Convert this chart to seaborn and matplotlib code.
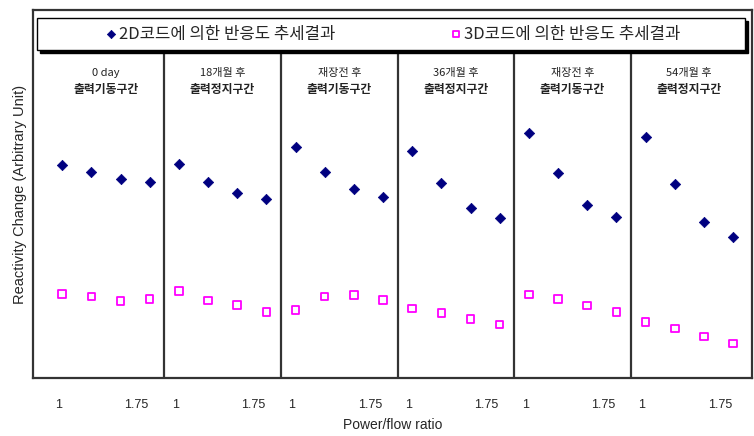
import numpy as np
import pandas as pd
import matplotlib
matplotlib.use("Agg")
import matplotlib.pyplot as plt
from matplotlib.patches import Rectangle
import seaborn as sns

# Reactivity trend per operating segment (4 power/flow points each)
segments_top = ["0 day", "18개월 후", "재장전 후", "36개월 후", "재장전 후", "54개월 후"]
segments_bottom = ["출력기동구간", "출력정지구간", "출력기동구간", "출력정지구간", "출력기동구간", "출력정지구간"]

code_2d = [57.8, 56.1, 54.2, 53.2,
           58.1, 53.3, 50.2, 48.7,
           62.7, 56.1, 51.3, 49.3,
           61.6, 53.0, 46.2, 43.5,
           66.5, 55.8, 47.1, 43.8,
           65.5, 52.6, 42.5, 38.3]
code_3d = [22.8, 22.2, 20.9, 21.5,
           23.7, 21.1, 19.8, 17.9,
           18.5, 22.2, 22.6, 21.2,
           18.9, 17.7, 16.0, 14.5,
           22.7, 21.4, 19.7, 17.9,
           15.2, 13.4, 11.3, 9.4]
tick_labels = ["1", "1.75"]

label_2d = "2D코드에 의한 반응도 추세결과"
label_3d = "3D코드에 의한 반응도 추세결과"

n_pts = 4
idx = np.arange(len(code_2d))
df = pd.DataFrame({"pos": idx, "r2d": code_2d, "r3d": code_3d})

sns.set_style("white")
plt.rcParams["font.family"] = ["Noto Sans CJK KR", "DejaVu Sans"]

fig = plt.figure(figsize=(7.54, 4.36), dpi=100)
W, H = 754, 436
ax = fig.add_axes([33 / W, (H - 378) / H, (752 - 33) / W, 368 / H])

sns.scatterplot(data=df, x="pos", y="r2d", ax=ax, marker="D", s=28,
                color="#000080", edgecolor="#000080", linewidth=0.5,
                label=label_2d)
sns.scatterplot(data=df, x="pos", y="r3d", ax=ax, marker="s", s=30,
                facecolor="none", edgecolor="#FF00FF", linewidth=1.3,
                label=label_3d)

ax.set_xlim(-1.0, 23.65)
ax.set_ylim(0, 100)

# segment dividers
for k in range(1, len(segments_top)):
    ax.axvline(k * n_pts - 0.5, ymin=0, ymax=0.886, color="#333333", lw=1.6)

# segment headers
for k, (t, b) in enumerate(zip(segments_top, segments_bottom)):
    cx = k * n_pts + 1.5
    ax.text(cx, 83.0, t, ha="center", va="center", fontsize=8, color="#222222")
    ax.text(cx, 78.3, b, ha="center", va="center", fontsize=8.5,
            fontweight="bold", color="#222222")

# tick labels per segment
ticks, labels = [], []
for k in range(len(segments_top)):
    ticks += [k * n_pts - 0.12, k * n_pts + 2.55]
    labels += tick_labels
ax.set_xticks(ticks)
ax.set_xticklabels(labels, fontsize=9, family="Liberation Sans")
ax.set_yticks([])
ax.tick_params(axis="x", length=0, pad=15)

ax.set_xlabel("Power/flow ratio", fontsize=10, family="Liberation Sans", labelpad=5)
ax.set_ylabel("Reactivity Change (Arbitrary Unit)", fontsize=10.5,
              family="Liberation Sans", labelpad=4)

for sp in ax.spines.values():
    sp.set_color("#333333")
    sp.set_linewidth(1.6)

# legend box with drop shadow
bx0, bx1 = (37 - 33) / 719, (745 - 33) / 719
by0, by1 = (378 - 50) / 368, (378 - 18) / 368
ax.add_patch(Rectangle((bx0 + 0.004, by0 - 0.009), bx1 - bx0, by1 - by0,
                       transform=ax.transAxes, facecolor="black",
                       edgecolor="black", zorder=4, clip_on=False))
ax.add_patch(Rectangle((bx0, by0), bx1 - bx0, by1 - by0,
                       transform=ax.transAxes, facecolor="white",
                       edgecolor="black", lw=1.0, zorder=5, clip_on=False))
leg = ax.legend(loc="center", bbox_to_anchor=(0.5, (by0 + by1) / 2),
                ncol=2, frameon=False, fontsize=12, columnspacing=6.8,
                handletextpad=0.1, handlelength=0.8, markerscale=0.8)
leg.set_zorder(6)

fig.savefig("out.png", dpi=100)
